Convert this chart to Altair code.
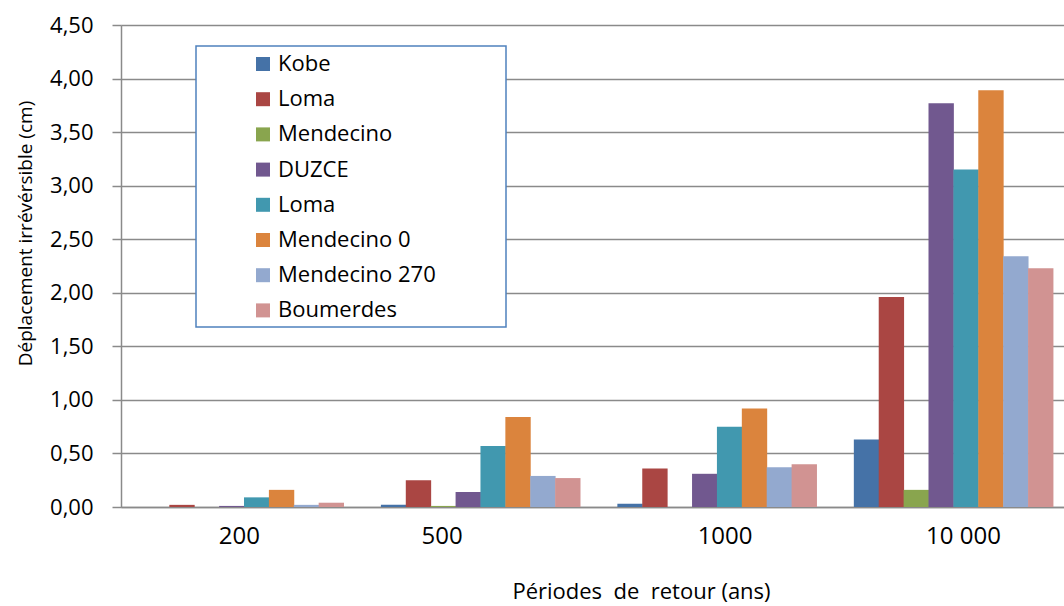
import altair as alt
import pandas as pd

# Return periods (categories) and earthquake records (series)
categories = ["200", "500", "1000", "10 000"]
series_names = ["Kobe", "Loma", "Mendecino", "DUZCE", "Loma",
                "Mendecino 0", "Mendecino 270", "Boumerdes"]
series_colors = ["#4572A7", "#AA4643", "#89A54E", "#71588F",
                 "#4198AF", "#DB843D", "#93A9CF", "#D19392"]

# Irreversible displacement (cm) for each return period
kobe = [0.00, 0.02, 0.03, 0.63]
loma = [0.02, 0.25, 0.36, 1.96]
mendecino = [0.00, 0.01, 0.00, 0.16]
duzce = [0.01, 0.14, 0.31, 3.77]
loma_b = [0.09, 0.57, 0.75, 3.15]
mendecino_0 = [0.16, 0.84, 0.92, 3.89]
mendecino_270 = [0.02, 0.29, 0.37, 2.34]
boumerdes = [0.04, 0.27, 0.40, 2.23]

series_values = [kobe, loma, mendecino, duzce, loma_b,
                 mendecino_0, mendecino_270, boumerdes]

rows = []
for j, vals in enumerate(series_values):
    for i, v in enumerate(vals):
        rows.append({"cat": i, "ser": j, "value": v})
df = pd.DataFrame(rows)

# Layout
FONT = "Open Sans"
N = len(series_names)
GAP = 1.5                    # gap between groups, in bar widths
BAND = N + GAP
PLOT_W, PLOT_H = 943, 482
CAT_PX = 239                 # pixels per category
X_MAX = -0.5 + PLOT_W / CAT_PX
GRID = "#8a8a8a"
LEGEND_BOX = dict(x=75, x2=385, y=21, y2=302)   # legend frame, px in plot area

label_shift_px = [-5.5, -39.5, 7.5, 9.5]
label_pos = [i + s / CAT_PX for i, s in enumerate(label_shift_px)]

cat_js = "[" + ",".join(f"'{c}'" for c in categories) + "]"
names_js = "[" + ",".join(f"'{n}'" for n in series_names) + "]"

bars = (
    alt.Chart(df)
    .transform_calculate(xpos=f"datum.cat + (datum.ser - {(N - 1) / 2}) / {BAND}")
    .mark_bar(size=CAT_PX / BAND + 0.2, clip=True)
    .encode(
        x=alt.X(
            "xpos:Q",
            scale=alt.Scale(domain=[-0.5, X_MAX], nice=False, zero=False),
            axis=alt.Axis(
                values=label_pos,
                labelExpr=f"{cat_js}[round(datum.value)]",
                grid=False, ticks=False, tickSize=0,
                domain=True, domainColor=GRID, domainWidth=1.5,
                labelFont=FONT, labelFontSize=24, labelColor="black",
                labelPadding=17, labelBaseline="top",
                title="Périodes\u00a0 de\u00a0 retour (ans)",
                titleFont=FONT, titleFontSize=22, titleFontWeight="normal",
                titleColor="black", titleX=520, titleY=84,
                titleBaseline="middle", titleAlign="center",
            ),
        ),
        y=alt.Y(
            "value:Q",
            scale=alt.Scale(domain=[0, 4.5], nice=False),
            axis=alt.Axis(
                values=[k * 0.5 for k in range(10)],
                labelExpr="replace(format(datum.value, '.2f'), '.', ',')",
                grid=True, gridColor=GRID, gridWidth=1.5,
                domain=True, domainColor=GRID, domainWidth=1.5,
                ticks=True, tickColor=GRID, tickSize=9, tickWidth=1.5,
                labelFont=FONT, labelFontSize=22, labelColor="black",
                labelPadding=19,
                title="Déplacement irrévérsible (cm)",
                titleFont=FONT, titleFontSize=19, titleFontWeight="normal",
                titleColor="black", titleAngle=270, titleX=-96, titleY=208,
                titleBaseline="middle", titleAlign="center",
            ),
        ),
        color=alt.Color(
            "ser:N",
            scale=alt.Scale(domain=list(range(N)), range=series_colors),
            title=None,
            legend=alt.Legend(
                orient="none", legendX=LEGEND_BOX["x"], legendY=LEGEND_BOX["y"] + 1,
                padding=6, rowPadding=13.2, symbolType="square", symbolSize=196,
                symbolOffset=50, symbolStrokeWidth=0, labelOffset=4,
                labelFont=FONT, labelFontSize=22, labelColor="black",
                labelLimit=400,
                labelExpr=f"{names_js}[datum.value]",
            ),
        ),
    )
)

# White legend frame with a blue border, drawn over the gridlines
frame = alt.Chart(df).mark_rect(
    fill="white", stroke="#4F81BD", strokeWidth=1.5
).encode(
    x=alt.value(LEGEND_BOX["x"]), x2=alt.value(LEGEND_BOX["x2"]),
    y=alt.value(LEGEND_BOX["y"]), y2=alt.value(LEGEND_BOX["y2"]),
).transform_filter("datum.cat == 0 && datum.ser == 0")

chart = (
    alt.layer(frame, bars)
    .properties(
        width=PLOT_W, height=PLOT_H,
        autosize=alt.AutoSizeParams(type="none"),
        padding={"left": 121, "top": 25, "right": 0, "bottom": 99},
    )
    .configure_view(stroke=None)
    .configure(background="white")
)

chart.save("out.html", embed_options={"renderer": "svg", "actions": False})
